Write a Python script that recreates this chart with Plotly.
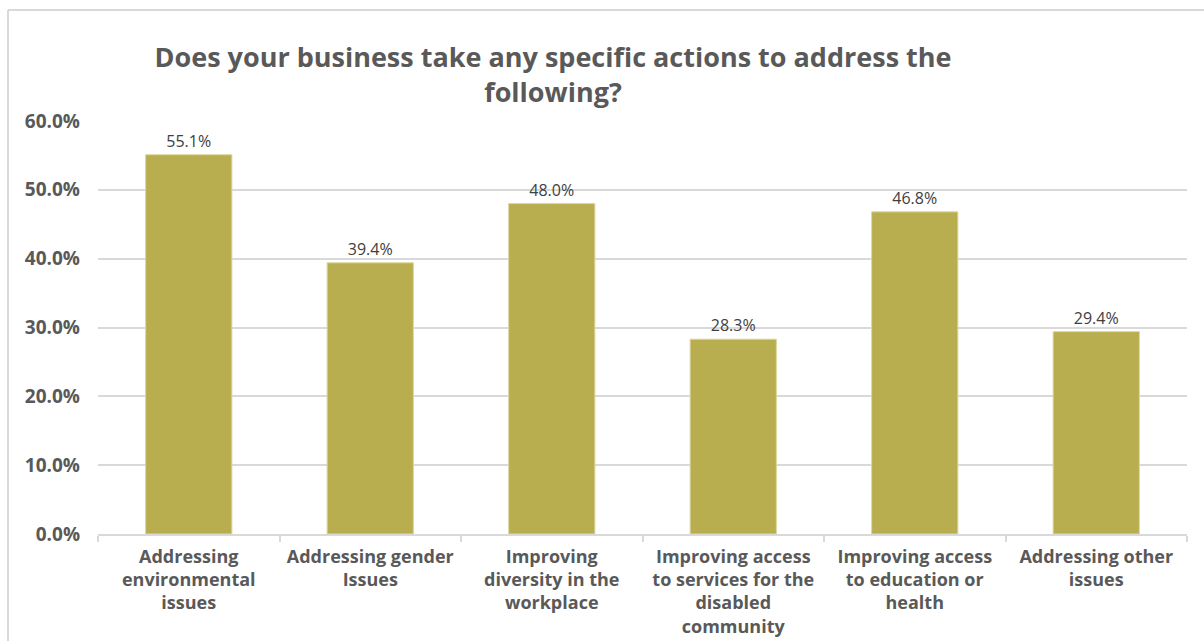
import plotly.graph_objects as go

categories = [
    "Addressing<br>environmental<br>issues",
    "Addressing gender<br>Issues",
    "Improving<br>diversity in the<br>workplace",
    "Improving access<br>to services for the<br>disabled<br>community",
    "Improving access<br>to education or<br>health",
    "Addressing other<br>issues",
]
values = [55.1, 39.4, 48.0, 28.3, 46.8, 29.4]
y_ticks = [0, 10, 20, 30, 40, 50, 60]

W, H = 1204, 641
L, R, T, B = 98, 17, 121, 107
PW, PH = W - L - R, H - T - B


def px_x(p):
    return (p - L) / PW


def px_y(p):
    return (H - B - p) / PH


fig = go.Figure()
fig.add_trace(go.Bar(
    x=categories,
    y=values,
    marker=dict(color="#B8AD4F", line=dict(color="#DCD69F", width=1)),
    text=[f"{v:.1f}%" for v in values],
    textposition="outside",
    textfont=dict(family="Open Sans", size=16, color="#404040"),
    cliponaxis=False,
    width=0.475,
))

fig.update_layout(
    width=W, height=H,
    margin=dict(l=L, r=R, t=T, b=B),
    paper_bgcolor="white",
    plot_bgcolor="white",
    showlegend=False,
    title=dict(
        text="Does your business take any specific actions to address the<br>following?",
        x=px_x(553), xref="paper", xanchor="center",
        y=1 - 66.5 / H, yref="container", yanchor="middle",
        font=dict(family="Open Sans", size=27, color="#595959", weight="bold"),
    ),
    font=dict(family="Open Sans", color="#595959"),
    xaxis=dict(
        automargin=False,
        showgrid=False,
        showline=True, linecolor="#D9D9D9", linewidth=2,
        ticks="outside", tickson="boundaries", ticklen=6, tickcolor="#D9D9D9", tickwidth=2,
        ticklabelstandoff=5,
        tickfont=dict(family="Open Sans", size=18, color="#595959", weight="bold"),
        fixedrange=True,
    ),
    yaxis=dict(
        automargin=False,
        range=[0, 60],
        tickvals=y_ticks,
        ticktext=[f"{v:.1f}%" for v in y_ticks],
        showgrid=True, gridcolor="#D9D9D9", gridwidth=1.5,
        zeroline=False, showline=False,
        ticks="", ticklabelstandoff=17,
        tickfont=dict(family="Open Sans", size=19, color="#595959", weight="bold"),
    ),
)

# chart frame (left and top edges)
frame = dict(color="#D9D9D9", width=2)
fig.add_shape(type="line", xref="paper", yref="paper",
              x0=px_x(8), x1=px_x(8), y0=px_y(10), y1=px_y(H + 5), line=frame)
fig.add_shape(type="line", xref="paper", yref="paper",
              x0=px_x(8), x1=px_x(W + 5), y0=px_y(10), y1=px_y(10), line=frame)

fig.write_html("out.html")
